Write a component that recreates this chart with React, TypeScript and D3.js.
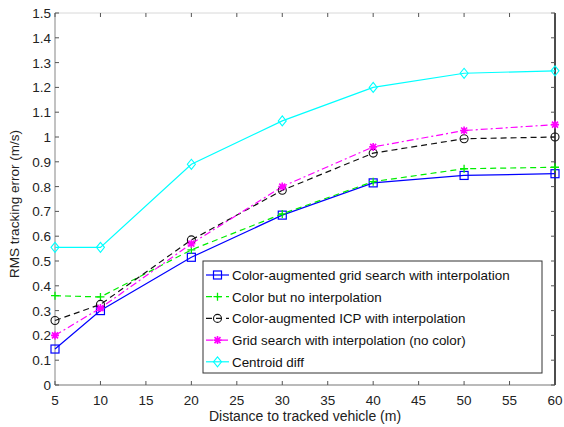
import React, { useEffect, useRef } from 'react';
import * as d3 from 'd3';

const distances = [5, 10, 20, 30, 40, 50, 60];
const gridSearchInterp = [0.145, 0.3, 0.515, 0.685, 0.815, 0.845, 0.852];
const colorNoInterp = [0.36, 0.355, 0.545, 0.69, 0.82, 0.872, 0.878];
const icpInterp = [0.26, 0.325, 0.585, 0.785, 0.935, 0.993, 1.0];
const gridNoColor = [0.2, 0.31, 0.57, 0.8, 0.96, 1.026, 1.05];
const centroidDiff = [0.555, 0.555, 0.89, 1.065, 1.2, 1.257, 1.267];

const seriesNames = [
  'Color-augmented grid search with interpolation',
  'Color but no interpolation',
  'Color-augmented ICP with interpolation',
  'Grid search with interpolation (no color)',
  'Centroid diff',
];
const xTicks = [5, 10, 15, 20, 25, 30, 35, 40, 45, 50, 55, 60];
const yTicks = [0, 0.1, 0.2, 0.3, 0.4, 0.5, 0.6, 0.7, 0.8, 0.9, 1, 1.1, 1.2, 1.3, 1.4, 1.5];

const series = [
  { name: seriesNames[0], values: gridSearchInterp, color: '#0000ff', dash: null, marker: 'square' },
  { name: seriesNames[1], values: colorNoInterp, color: '#00ee00', dash: '6,4', marker: 'plus' },
  { name: seriesNames[2], values: icpInterp, color: '#111111', dash: '6,4', marker: 'circle' },
  { name: seriesNames[3], values: gridNoColor, color: '#ff00ff', dash: '7,3,2,3', marker: 'star' },
  { name: seriesNames[4], values: centroidDiff, color: '#00ffff', dash: null, marker: 'diamond' },
];

const FONT = '"Liberation Sans", Arial, sans-serif';

function drawMarker(g: any, type: string, cx: number, cy: number, color: string) {
  const s = 4;
  if (type === 'square') {
    g.append('rect').attr('x', cx - s).attr('y', cy - s).attr('width', 2 * s).attr('height', 2 * s)
      .attr('fill', 'none').attr('stroke', color).attr('stroke-width', 1.2);
  } else if (type === 'circle') {
    g.append('circle').attr('cx', cx).attr('cy', cy).attr('r', s)
      .attr('fill', 'none').attr('stroke', color).attr('stroke-width', 1.1);
  } else if (type === 'plus') {
    g.append('path').attr('d', `M${cx - s},${cy}H${cx + s}M${cx},${cy - s}V${cy + s}`)
      .attr('stroke', color).attr('stroke-width', 1.3);
  } else if (type === 'star') {
    const d = s * 0.75;
    g.append('path')
      .attr('d', `M${cx - s},${cy}H${cx + s}M${cx},${cy - s}V${cy + s}M${cx - d},${cy - d}L${cx + d},${cy + d}M${cx - d},${cy + d}L${cx + d},${cy - d}`)
      .attr('stroke', color).attr('stroke-width', 1.6);
  } else if (type === 'diamond') {
    g.append('path').attr('d', `M${cx},${cy - 5}L${cx + 4},${cy}L${cx},${cy + 5}L${cx - 4},${cy}Z`)
      .attr('fill', 'none').attr('stroke', color).attr('stroke-width', 1.1);
  }
}

const App = () => {
  const ref = useRef<SVGSVGElement>(null);
  const svgWidth = 564;
  const svgHeight = 427;
  const left = 55, right = 555, top = 13, bottom = 385;

  useEffect(() => {
    const svg = d3.select(ref.current);
    svg.selectAll('*').remove();

    const x = d3.scaleLinear().domain([5, 60]).range([left, right]);
    const y = d3.scaleLinear().domain([0, 1.5]).range([bottom, top]);

    svg.append('rect').attr('width', svgWidth).attr('height', svgHeight).attr('fill', '#fff');

    // frame
    svg.append('line').attr('x1', left).attr('x2', right).attr('y1', top).attr('y2', top)
      .attr('stroke', '#d8d8d8').attr('stroke-width', 1);
    svg.append('line').attr('x1', left).attr('x2', right).attr('y1', bottom).attr('y2', bottom)
      .attr('stroke', '#777').attr('stroke-width', 1.2);
    svg.append('line').attr('x1', left).attr('x2', left).attr('y1', top).attr('y2', bottom)
      .attr('stroke', '#999').attr('stroke-width', 1.2);
    svg.append('line').attr('x1', right).attr('x2', right).attr('y1', top).attr('y2', bottom)
      .attr('stroke', '#111').attr('stroke-width', 1.5);

    // ticks
    const tl = 4;
    xTicks.forEach(t => {
      svg.append('line').attr('x1', x(t)).attr('x2', x(t)).attr('y1', bottom).attr('y2', bottom - tl)
        .attr('stroke', '#555');
      svg.append('line').attr('x1', x(t)).attr('x2', x(t)).attr('y1', top).attr('y2', top + tl)
        .attr('stroke', '#555');
      svg.append('text').attr('x', x(t)).attr('y', 405).attr('text-anchor', 'middle')
        .attr('font-family', FONT).attr('font-size', 13.5).attr('fill', '#222').text(t);
    });
    yTicks.forEach(t => {
      svg.append('line').attr('x1', left).attr('x2', left + tl).attr('y1', y(t)).attr('y2', y(t))
        .attr('stroke', '#555');
      svg.append('line').attr('x1', right).attr('x2', right - tl).attr('y1', y(t)).attr('y2', y(t))
        .attr('stroke', '#555');
      svg.append('text').attr('x', 51).attr('y', y(t) + 5).attr('text-anchor', 'end')
        .attr('font-family', FONT).attr('font-size', 13.5).attr('fill', '#222').text(d3.format('~g')(t));
    });

    // axis titles
    svg.append('text').attr('x', 305).attr('y', 421).attr('text-anchor', 'middle')
      .attr('font-family', FONT).attr('font-size', 14).attr('fill', '#222')
      .text('Distance to tracked vehicle (m)');
    svg.append('text').attr('transform', `translate(19,${(top + bottom) / 2 + 5}) rotate(-90)`)
      .attr('text-anchor', 'middle').attr('font-family', FONT).attr('font-size', 13.5).attr('fill', '#222')
      .text('RMS tracking error (m/s)');

    // series
    const line = d3.line<number>().x((d, i) => x(distances[i])).y(d => y(d));
    series.forEach(s => {
      const g = svg.append('g');
      g.append('path').attr('d', line(s.values)).attr('fill', 'none')
        .attr('stroke', s.color).attr('stroke-width', 1.2)
        .attr('stroke-dasharray', s.dash);
      s.values.forEach((v, i) => drawMarker(g, s.marker, x(distances[i]), y(v), s.color));
    });

    // legend
    const lx = 203, ly = 261, lw = 339, lh = 112;
    svg.append('rect').attr('x', lx).attr('y', ly).attr('width', lw).attr('height', lh)
      .attr('fill', '#fff').attr('stroke', '#333').attr('stroke-width', 1);
    series.forEach((s, i) => {
      const yy = ly + 14 + i * 21.7;
      const g = svg.append('g');
      g.append('line').attr('x1', 206).attr('x2', 229).attr('y1', yy).attr('y2', yy)
        .attr('stroke', s.color).attr('stroke-width', 1.2).attr('stroke-dasharray', s.dash);
      drawMarker(g, s.marker, 217.5, yy, s.color);
      g.append('text').attr('x', 232).attr('y', yy + 5)
        .attr('font-family', FONT).attr('font-size', 13.4).attr('fill', '#111').text(s.name);
    });
  }, []);

  return <svg ref={ref} width={svgWidth} height={svgHeight} style={{ position: 'absolute', left: 0, top: 0 }} />;
};

export default App;
